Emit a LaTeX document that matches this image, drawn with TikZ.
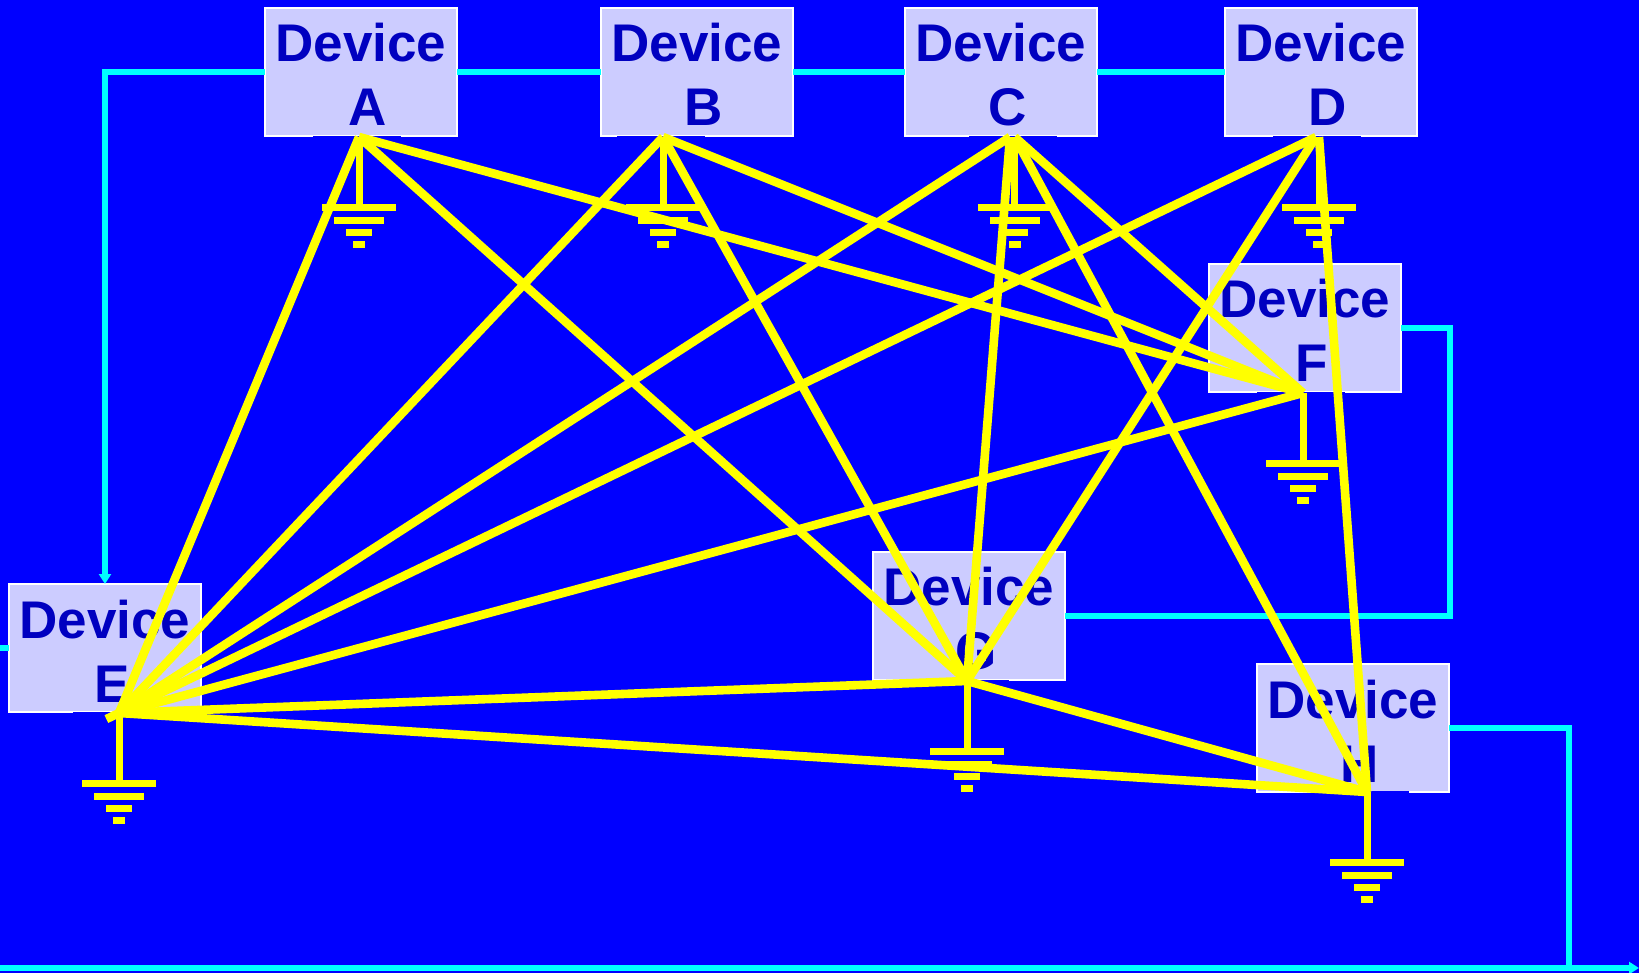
\documentclass[tikz,border=0pt]{standalone}
\usepackage{fontspec}
\setmainfont{Liberation Sans}
\usetikzlibrary{arrows.meta}
\definecolor{bg}{HTML}{0000FF}
\definecolor{boxfill}{HTML}{CCCCFF}
\definecolor{boxtext}{HTML}{0000C0}
\definecolor{bus}{HTML}{00FFFF}
\definecolor{wire}{HTML}{FFFF00}
\tikzset{
  x=1pt,y=-1pt,
  device/.style={draw=white,line width=2.2pt,fill=boxfill,text=boxtext,
    minimum width=192pt,minimum height=128pt,inner sep=0pt,outer sep=0pt,
    align=center,font=\fontsize{53}{64}\bfseries\selectfont},
  busline/.style={draw=bus,line width=5.5pt},
  busarrow/.style={busline,-{Triangle[width=12pt,length=10pt]}},
  wireline/.style={draw=wire,line width=8.6pt},
  ground/.pic={
    \fill[bg] (-46,-1.2) rectangle (42,0.5);
    \draw[draw=wire,line width=7pt] (0,0) -- (0,71);
    \fill[wire] (-37,67.2) rectangle (37,73.8);
    \fill[wire] (-25,80) rectangle (25,86.6);
    \fill[wire] (-13,92.2) rectangle (13,98.8);
    \fill[wire] (-6,104.2) rectangle (6,110.8);
  }
}
\newcommand{\devlabel}[1]{\rule{0pt}{44pt}Device\\\hspace*{14pt}#1}
\begin{document}
\begin{tikzpicture}
\useasboundingbox (0,0) rectangle (1639,973);
\fill[bg] (0,0) rectangle (1639,973);
% devices
\node[device] (A) at (361,72) {\devlabel{A}};
\node[device] (B) at (697,72) {\devlabel{B}};
\node[device] (C) at (1001,72) {\devlabel{C}};
\node[device] (D) at (1321,72) {\devlabel{D}};
\node[device] (F) at (1305,328) {\devlabel{F}};
\node[device] (E) at (105,648) {\devlabel{E}};
\node[device] (G) at (969,616) {\devlabel{G}};
\node[device] (H) at (1353,728) {\devlabel{H}};
% free ends
\coordinate (busL) at (0,968);
\coordinate (busR) at (1639,968);
\coordinate (stubE) at (0,648);
% cyan bus
\draw[busarrow] (A.west) -| (E.north);
\draw[busline] (A.east) -- (B.west);
\draw[busline] (B.east) -- (C.west);
\draw[busline] (C.east) -- (D.west);
\draw[busline] (F.east) -- (1450,328) |- (G.east);
\draw[busline] (H.east) -- (1569,728) -- (1569,968);
\draw[busarrow] (busL) -- (busR);
\draw[busline] (stubE) -- (E.west);
% hubs
\coordinate (hA) at (359,137);
\coordinate (hB) at (663,137);
\coordinate (hC) at (1014.6,137);
\coordinate (hCb) at (1010,137);
\coordinate (hD) at (1319,137);
\coordinate (hDb) at (1316,137);
\coordinate (hF) at (1303,393);
\coordinate (hE) at (119,713);
\coordinate (hG) at (967,681);
\coordinate (hH) at (1367,792);
% grounds
\pic at (hA) {ground};
\pic at (hB) {ground};
\pic at (hC) {ground};
\pic at (hD) {ground};
\pic at (hF) {ground};
\pic at (hE) {ground};
\pic at (hG) {ground};
\pic at (hH) {ground};
% yellow connections
\draw[wireline] (hA) -- (hE);
\draw[wireline] (hA) -- (hG);
\draw[wireline] (hA) -- (hF);
\draw[wireline] (hB) -- (hE);
\draw[wireline] (hB) -- (hG);
\draw[wireline] (hB) -- (hF);
\draw[wireline] (hCb) -- (hE);
\draw[wireline] (hCb) -- (hG);
\draw[wireline] (hC) -- (hF);
\draw[wireline] (hC) -- (hH);
\draw[wireline,shorten >=-14pt] (hDb) -- (hE);
\draw[wireline] (hDb) -- (hG);
\draw[wireline] (hD) -- (hH);
\draw[wireline] (hF) -- (hE);
\draw[wireline] (hG) -- (hE);
\draw[wireline] (hG) -- (hH);
\draw[wireline] (hE) -- (hH);
\end{tikzpicture}
\end{document}
